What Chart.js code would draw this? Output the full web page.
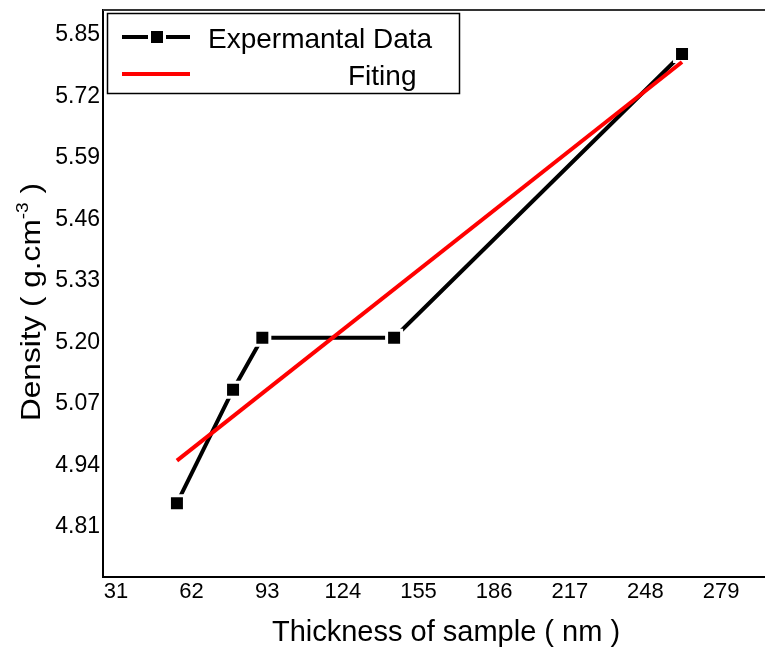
<!DOCTYPE html>
<html>
<head>
<meta charset="utf-8">
<script src="https://cdn.jsdelivr.net/npm/chart.js@4/dist/chart.umd.min.js"></script>
<style>
  body { margin: 0; background: #fff; }
  canvas { display: block; }
</style>
</head>
<body>
<canvas id="myChart" width="765" height="648"></canvas>
<script>
// data
const thickness = [56, 79, 91, 145, 263];
const density = [4.86, 5.10, 5.21, 5.21, 5.81];
const fitX = [56, 263];
const fitY = [4.95, 5.793];
const xTicks = [31, 62, 93, 124, 155, 186, 217, 248, 279];
const yTicks = [4.81, 4.94, 5.07, 5.20, 5.33, 5.46, 5.59, 5.72, 5.85];
const seriesNames = ['Expermantal Data', 'Fiting'];

const FONT = '"Liberation Sans", Arial, sans-serif';

// titles, top frame line and the boxed legend
const decor = {
  id: 'decor',
  afterDraw(chart) {
    const c = chart.ctx;
    const a = chart.chartArea;
    c.save();
    // top frame
    c.strokeStyle = '#333';
    c.lineWidth = 2;
    c.beginPath();
    c.moveTo(a.left, a.top);
    c.lineTo(a.right, a.top);
    c.stroke();

    // x title
    c.fillStyle = '#000';
    c.font = '29px ' + FONT;
    c.textAlign = 'center';
    c.textBaseline = 'alphabetic';
    c.fillText('Thickness of sample ( nm )', 446, 641, 358);

    // y title with superscript
    c.save();
    c.translate(40, 421);
    c.rotate(-Math.PI / 2);
    const p1 = 'Density ( g.cm', sup = '-3', p2 = ' )';
    c.font = '28px ' + FONT;
    const w1 = c.measureText(p1).width, w3 = c.measureText(p2).width;
    c.font = '17px ' + FONT;
    const w2 = c.measureText(sup).width;
    c.scale(238 / (w1 + w2 + w3), 1);
    c.textAlign = 'left';
    c.font = '28px ' + FONT;
    c.fillText(p1, 0, 0);
    c.font = '17px ' + FONT;
    c.fillText(sup, w1, -12);
    c.font = '28px ' + FONT;
    c.fillText(p2, w1 + w2, 0);
    c.restore();

    // legend box
    c.strokeStyle = '#000';
    c.lineWidth = 1.5;
    c.strokeRect(107.5, 13.5, 352, 80);
    c.lineWidth = 4;
    c.beginPath();
    c.moveTo(122, 37);
    c.lineTo(190, 37);
    c.stroke();
    c.fillStyle = '#fff';
    c.fillRect(148, 28, 18, 18);
    c.fillStyle = '#000';
    c.fillRect(151, 31, 12, 12);
    c.strokeStyle = '#ff0000';
    c.beginPath();
    c.moveTo(122, 74);
    c.lineTo(190, 74);
    c.stroke();
    c.fillStyle = '#000';
    c.font = '28px ' + FONT;
    c.textAlign = 'left';
    c.fillText(seriesNames[0], 208, 48, 235);
    c.fillText(seriesNames[1], 348, 85, 70);
    c.restore();
  }
};

const ctx = document.getElementById('myChart').getContext('2d');
const myChart = new Chart(ctx, {
  type: 'scatter',
  data: {
    datasets: [{
      label: seriesNames[0],
      data: thickness.map((x, i) => ({ x: x, y: density[i] })),
      showLine: true,
      borderColor: '#000',
      borderWidth: 4,
      pointStyle: 'rect',
      pointRadius: 10.6,
      pointBackgroundColor: '#000',
      pointBorderColor: '#fff',
      pointBorderWidth: 3,
      order: 1
    }, {
      label: seriesNames[1],
      data: fitX.map((x, i) => ({ x: x, y: fitY[i] })),
      showLine: true,
      borderColor: '#ff0000',
      borderWidth: 4,
      pointRadius: 0,
      order: 0
    }]
  },
  options: {
    responsive: false,
    animation: false,
    layout: { autoPadding: false, padding: { top: 10, left: 0, right: 0, bottom: 0 } },
    plugins: {
      legend: { display: false },
      tooltip: { enabled: false }
    },
    scales: {
      x: {
        type: 'linear',
        min: 25.7,
        max: 297,
        afterBuildTicks: s => { s.ticks = xTicks.map(v => ({ value: v })); },
        afterFit: s => { s.height = 71; s.paddingLeft = 0; s.paddingRight = 0; },
        grid: { display: false, drawTicks: false },
        border: { display: true, color: '#000', width: 2 },
        ticks: {
          autoSkip: false,
          maxRotation: 0,
          padding: 2,
          color: '#000',
          font: { family: FONT, size: 22 }
        }
      },
      y: {
        min: 4.704,
        max: 5.903,
        afterBuildTicks: s => { s.ticks = yTicks.map(v => ({ value: v })); },
        afterFit: s => { s.width = 103; s.paddingTop = 0; s.paddingBottom = 0; },
        grid: { display: false, drawTicks: false },
        border: { display: true, color: '#000', width: 2 },
        ticks: {
          autoSkip: false,
          padding: 3,
          color: '#000',
          font: { family: FONT, size: 23 },
          callback: v => v.toFixed(2)
        }
      }
    }
  },
  plugins: [decor]
});
</script>
</body>
</html>
